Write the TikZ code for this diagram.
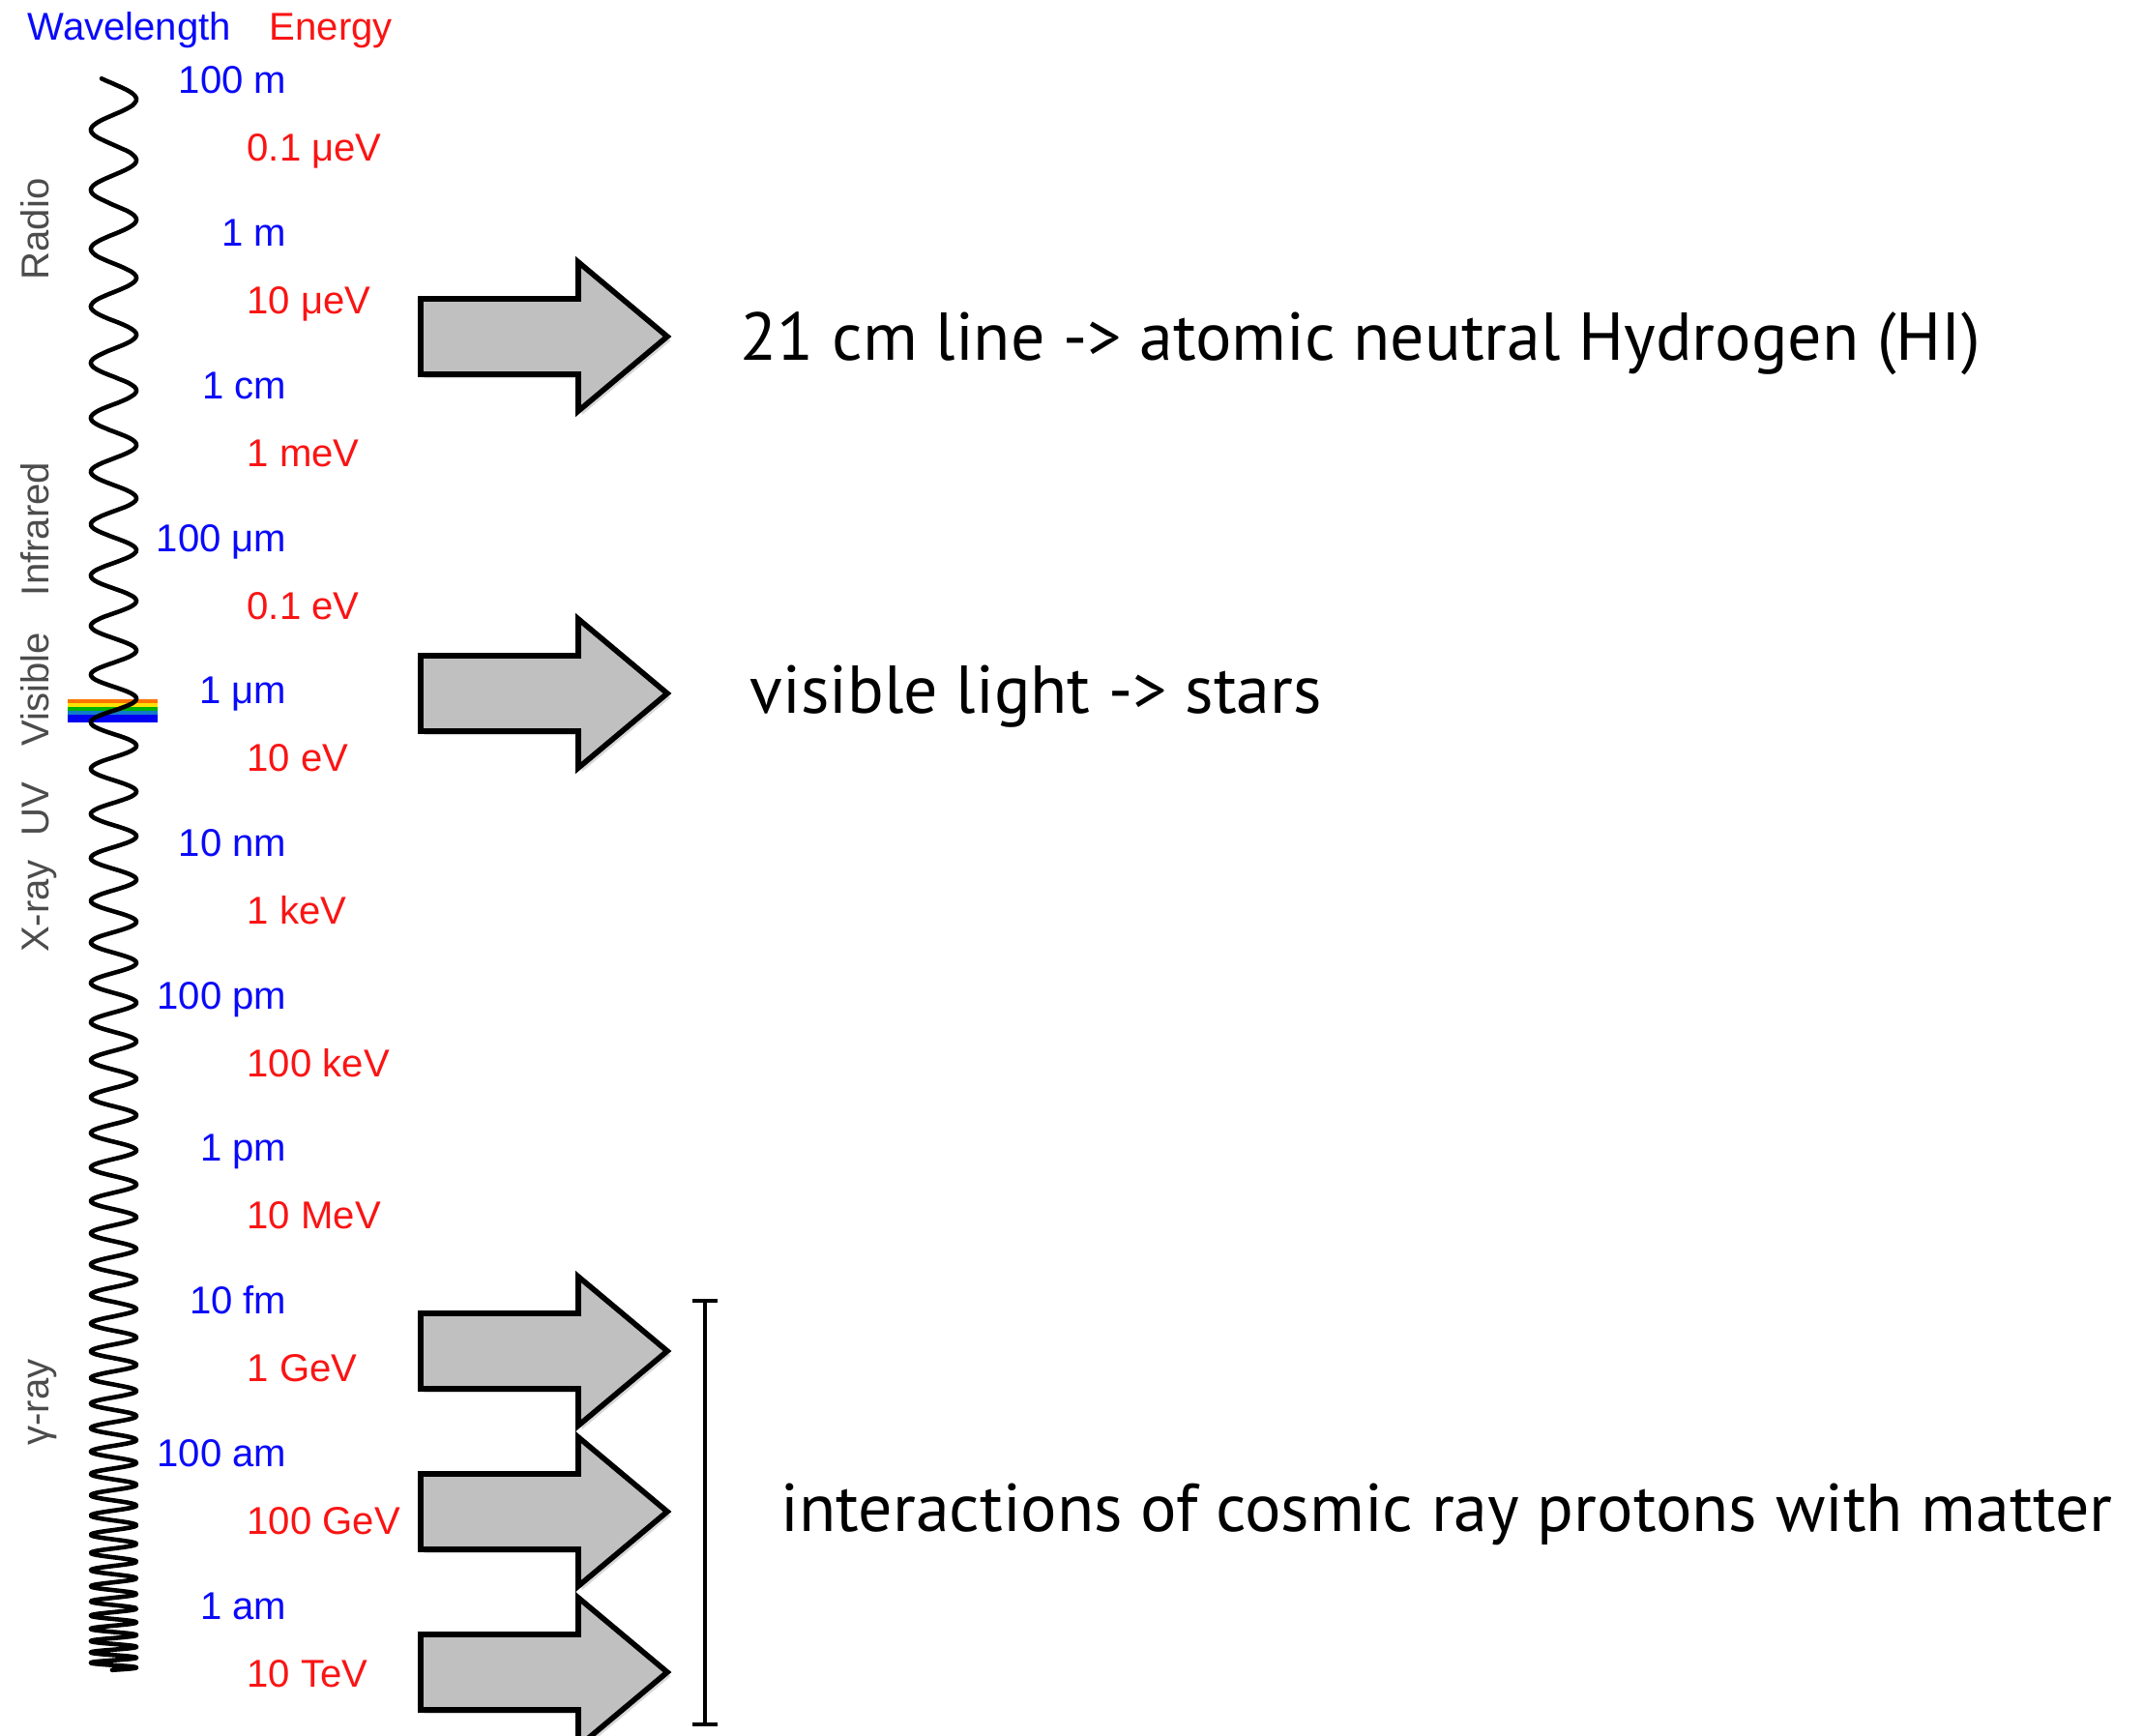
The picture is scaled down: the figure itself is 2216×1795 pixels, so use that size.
\documentclass[tikz,border=0pt]{standalone}
\usepackage{fontspec}
\setmainfont{Liberation Sans}
\newfontfamily\chalk{PT Sans}
\usetikzlibrary{shadows}
\definecolor{wlblue}{RGB}{10,10,250}
\definecolor{enred}{RGB}{250,20,20}
\definecolor{arrowgray}{RGB}{192,192,192}
\tikzset{
  x=0.01cm, y=-0.01cm,
  wllabel/.style={anchor=base east, inner sep=0pt, text=wlblue, font=\fontsize{11.4pt}{13pt}\selectfont},
  enlabel/.style={anchor=base west, inner sep=0pt, text=enred, font=\fontsize{11.4pt}{13pt}\selectfont},
  bandlabel/.style={anchor=base, rotate=90, inner sep=0pt, text=black!70, font=\fontsize{11.4pt}{13pt}\selectfont},
  bigtext/.style={anchor=base west, inner sep=0pt, font=\chalk\fontsize{19.9pt}{23pt}\selectfont},
  blockarrow/.style={draw=black, fill=arrowgray, line width=1.6pt, line join=miter,
    drop shadow={opacity=0.3, shadow xshift=1pt, shadow yshift=-1.2pt}},
  bracketline/.style={line width=1.4pt}
}
\newcommand\bigarrow[2]{%
  \coordinate (#1) at (435,#2);
  \draw[blockarrow] (435,#2-39) -- (598,#2-39) -- (598,#2-77) -- (690,#2)
     -- (598,#2+77) -- (598,#2+39) -- (435,#2+39) -- cycle;
}
\begin{document}
\begin{tikzpicture}
\useasboundingbox (0,0) rectangle (2216,1795);
\fill[white] (0,0) rectangle (2216,1795);

% headers
\node[anchor=base west, inner sep=0pt, text=wlblue, font=\fontsize{11.4pt}{13pt}\selectfont] (hwl) at (28,42) {Wavelength};
\node[anchor=base west, inner sep=0pt, text=enred, font=\fontsize{11.4pt}{13pt}\selectfont] (hen) at (278,42) {Energy};

% band labels
\node[bandlabel] (radio) at (50,237) {Radio};
\node[bandlabel] (ir) at (50,547) {Infrared};
\node[bandlabel] (vis) at (50,713) {Visible};
\node[bandlabel] (uv) at (50,837) {UV};
\node[bandlabel] (xray) at (50,937) {X-ray};
\node[bandlabel] (gray) at (50,1450) {γ-ray};

% rainbow band
\fill[orange!90!red] (70,723) rectangle (163,727);
\fill[yellow!85!orange] (70,727) rectangle (163,731);
\fill[green!70!black] (70,731) rectangle (163,735);
\fill[cyan!60!blue] (70,735) rectangle (163,739);
\fill[blue!95!black] (70,739) rectangle (163,747);

% chirped wave
\draw[line width=1.3pt, line join=round, line cap=round]
  plot[variable=\t, domain=0:46.6, samples=1300]
  ({117.5+23.6*sin(360*frac(\t)-32)}, {1780-(28.42-0.4815*\t)^(2.2222)});

% wavelength labels
\foreach \lab [count=\i from 0] in {100 m, 1 m, 1 cm, 100 μm, 1 μm, 10 nm, 100 pm, 1 pm, 10 fm, 100 am, 1 am}
  \node[wllabel] (wl\i) at (297,97+157.7*\i) {\lab};
% energy labels
\foreach \lab [count=\i from 0] in {0.1 μeV, 10 μeV, 1 meV, 0.1 eV, 10 eV, 1 keV, 100 keV, 10 MeV, 1 GeV, 100 GeV, 10 TeV}
  \node[enlabel] (en\i) at (255,167+157.7*\i) {\lab};

% block arrows
\bigarrow{a1}{348}
\bigarrow{a2}{717}
\bigarrow{a3}{1397}
\bigarrow{a4}{1563}
\bigarrow{a5}{1729}

% texts
\node[bigtext] (t1) at (765,373) {21 cm line -> atomic neutral Hydrogen (HI)};
\node[bigtext] (t2) at (775,738) {visible light -> stars};
\node[bigtext] (t3) at (807,1583) {interactions of cosmic ray protons with matter};

% bracket
\coordinate (bt) at (729,1345);
\coordinate (bb) at (729,1783);
\draw[bracketline] (bt) -- (bb);
\draw[bracketline] ([xshift=-3.7pt]bt) -- ([xshift=3.7pt]bt);
\draw[bracketline] ([xshift=-3.7pt]bb) -- ([xshift=3.7pt]bb);
\end{tikzpicture}
\end{document}
